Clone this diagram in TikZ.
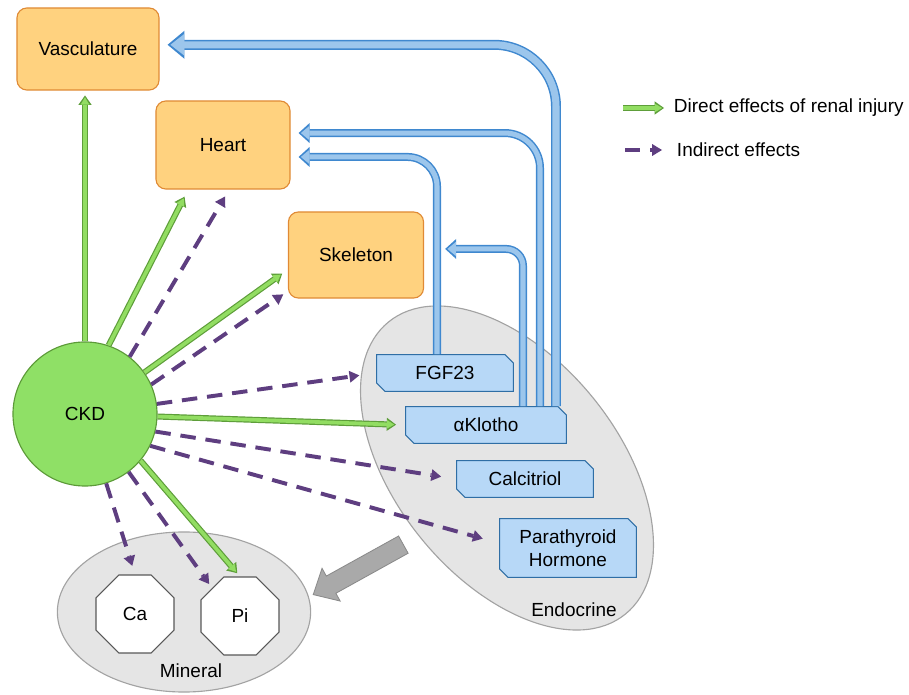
\documentclass[tikz,border=0pt]{standalone}
\usepackage{fontspec}
\setmainfont{Liberation Sans}
\usepackage{xcolor}
\usepackage{tikz}
\usetikzlibrary{shapes,shapes.geometric,shapes.misc,shapes.arrows,arrows.meta,calc}

\definecolor{organFill}{HTML}{FFD27F}
\definecolor{organEdge}{HTML}{E08A35}
\definecolor{kidneyFill}{HTML}{8FE066}
\definecolor{kidneyEdge}{HTML}{5C9A38}
\definecolor{hormFill}{HTML}{B7D8F7}
\definecolor{hormEdge}{HTML}{2F6EA5}
\definecolor{pipeFill}{HTML}{9CC6EC}
\definecolor{pipeEdge}{HTML}{3F88CF}
\definecolor{directFill}{HTML}{92DD62}
\definecolor{directEdge}{HTML}{5E9E3A}
\definecolor{indirect}{HTML}{5E3E80}
\definecolor{poolFill}{HTML}{E5E5E5}
\definecolor{poolEdge}{HTML}{A3A3A3}
\definecolor{flowFill}{HTML}{A9A9A9}
\definecolor{flowEdge}{HTML}{8A8A8A}

\tikzstyle{tsLabel} = [ 
    text=black, 
    font=\fontsize{13.5}{16}\selectfont
]
\tikzstyle{tsOrgan} = [ 
    rectangle,
    tsLabel,
    rounded corners=7pt,
    draw=organEdge,
    fill=organFill,
    line width=0.8pt
]
\tikzstyle{tsKidney} = [ 
    circle,
    tsLabel,
    draw=kidneyEdge,
    fill=kidneyFill,
    line width=0.8pt,
    minimum size=3.6cm
]
\tikzstyle{tsHormone} = [ 
    chamfered rectangle,
    chamfered rectangle corners={north east, south west},
    chamfered rectangle sep=3pt,
    tsLabel,
    align=center,
    draw=hormEdge,
    fill=hormFill,
    line width=0.8pt,
    minimum width=3.42cm,
    minimum height=0.92cm
]
\tikzstyle{tsPool} = [ 
    ellipse,
    draw=poolEdge,
    fill=poolFill,
    line width=0.8pt
]
\tikzstyle{tsMineral} = [ 
    regular polygon,
    regular polygon sides=8,
    tsLabel,
    draw=black!65,
    fill=white,
    line width=0.8pt,
    minimum size=2.11cm
]
\tikzstyle{tsFlow} = [ 
    single arrow,
    draw=flowEdge,
    fill=flowFill,
    line width=0.6pt,
    minimum height=2.575cm,
    inner xsep=0pt,
    inner ysep=6.7pt,
    single arrow head extend=6.3pt,
    single arrow tip angle=85,
    rotate=209
]
\tikzstyle{tsPipeEdge} = [ 
    draw=pipeEdge,
    line width=5.7pt,
    -{Triangle[length=7.8pt, width=14.2pt, line width=0pt]}
]
\tikzstyle{tsPipeFill} = [ 
    draw=pipeFill,
    line width=3.6pt,
    -{Triangle[length=6pt, width=10pt, line width=0pt]}
]
\tikzstyle{tsBigPipeEdge} = [ 
    draw=pipeEdge,
    line width=7.1pt,
    -{Triangle[length=12pt, width=20pt, line width=0pt]}
]
\tikzstyle{tsBigPipeFill} = [ 
    draw=pipeFill,
    line width=5pt,
    -{Triangle[length=9.6pt, width=15pt, line width=0pt]}
]
\tikzstyle{tsDirectEdge} = [ 
    draw=directEdge,
    line width=4.3pt,
    -{Triangle[length=6.6pt, width=9.4pt, line width=0pt]}
]
\tikzstyle{tsDirectFill} = [ 
    draw=directFill,
    line width=2.6pt,
    -{Triangle[length=5.2pt, width=6.2pt, line width=0pt]}
]
\tikzstyle{tsIndirect} = [ 
    draw=indirect,
    line width=2.8pt,
    dash pattern=on 11pt off 7pt,
    -{Triangle[length=7pt, width=8.5pt, line width=0pt]}
]

\newcommand{\directArrow}[2][0pt]{%
    \draw[tsDirectEdge, shorten >=#1] #2;
    \draw[tsDirectFill, shorten >=#1+1.3pt] #2;
}

\begin{document}
\begin{tikzpicture}[x=0.025cm, y=-0.025cm]

    \useasboundingbox (0,0) rectangle (909,695);

    \node[tsPool, minimum width=9.4cm, minimum height=5.55cm, rotate=-51] (endocrine) at (507,468) { };
    \node[tsPool, minimum width=6.33cm, minimum height=4cm] (mineral) at (184,612) { };
    \node[tsLabel] (endocrineText) at (574,610) {Endocrine};
    \node[tsLabel] (mineralText) at (191,671) {Mineral};

    \node[tsOrgan, minimum width=3.55cm, minimum height=2.05cm] (vasc) at (88,49) {Vasculature};
    \node[tsOrgan, minimum width=3.35cm, minimum height=2.2cm] (heart) at (223,145) {Heart};
    \node[tsOrgan, minimum width=3.375cm, minimum height=2.15cm] (skeleton) at (356,255) {Skeleton};

    \node[tsKidney] (ckd) at (85,414) {CKD};

    \node[tsHormone] (fgf) at (445,373) {FGF23};
    \node[tsHormone, minimum width=4.02cm] (klotho) at (486,425) {αKlotho};
    \node[tsHormone] (calcitriol) at (525,479) {Calcitriol};
    \node[tsHormone, minimum height=1.47cm] (pth) at (568,548) {Parathyroid\\Hormone};

    \node[tsMineral] (ca) at (135,614) {Ca};
    \node[tsMineral] (pi) at (240,616) {Pi};

    \node[tsFlow] (flow) at (363,567) { };

    \draw[tsBigPipeEdge, rounded corners=44pt, shorten >=5.7pt] (klotho.north) ++(70,0) |- ([yshift=3pt]vasc.east);
    \draw[tsBigPipeFill, rounded corners=44pt, shorten >=7.7pt] (klotho.north) ++(70,0) |- ([yshift=3pt]vasc.east);
    \draw[tsPipeEdge, rounded corners=25pt, shorten >=5.7pt] (klotho.north) ++(54,0) |- ([yshift=8.5pt]heart.east);
    \draw[tsPipeFill, rounded corners=25pt, shorten >=7.3pt] (klotho.north) ++(54,0) |- ([yshift=8.5pt]heart.east);
    \draw[tsPipeEdge, rounded corners=21pt, shorten >=5.7pt] (fgf.north) ++(-8,0) |- ([yshift=-8.5pt]heart.east);
    \draw[tsPipeFill, rounded corners=21pt, shorten >=7.3pt] (fgf.north) ++(-8,0) |- ([yshift=-8.5pt]heart.east);
    \draw[tsPipeEdge, rounded corners=12pt, shorten >=15pt] (klotho.north) ++(37,0) |- ([yshift=4.3pt]skeleton.east);
    \draw[tsPipeFill, rounded corners=12pt, shorten >=16.6pt] (klotho.north) ++(37,0) |- ([yshift=4.3pt]skeleton.east);

    \directArrow[3.5pt]{(ckd.north) -- (ckd.north |- vasc.south)}
    \directArrow[5.7pt]{(ckd.71) -- (heart.-128)}
    \directArrow[5pt]{(ckd.35) -- (skeleton.192)}
    \directArrow[6.4pt]{(ckd.-2) -- (klotho.west)}
    \directArrow[3pt]{(ckd.-40) -- (pi.north)}

    \draw[tsIndirect, shorten >=5.7pt] (ckd.52) -- (heart.-82);
    \draw[tsIndirect, shorten >=4pt] (ckd.24) -- (skeleton.208);
    \draw[tsIndirect, shorten >=12pt] (ckd.8) -- (fgf.west);
    \draw[tsIndirect, shorten >=10.7pt] (ckd.-14) -- (calcitriol.west);
    \draw[tsIndirect, shorten >=12pt] (ckd.-26) -- (pth.176);
    \draw[tsIndirect, shorten >=6.4pt] (ckd.-73) -- (ca.north);
    \draw[tsIndirect, shorten >=3.5pt] (ckd.-53) -- (pi.135);

    \coordinate (legDirectTail) at (623,108);
    \coordinate (legDirectHead) at (664,108);
    \directArrow{(legDirectTail) -- (legDirectHead)}
    \node[tsLabel, anchor=west] (legDirect) at (669,108) {Direct effects of renal injury};

    \coordinate (legIndirectTail) at (625,150);
    \coordinate (legIndirectHead) at (662,150);
    \draw[tsIndirect] (legIndirectTail) -- (legIndirectHead);
    \node[tsLabel, anchor=west] (legIndirect) at (672,150) {Indirect effects};

\end{tikzpicture}
\end{document}
